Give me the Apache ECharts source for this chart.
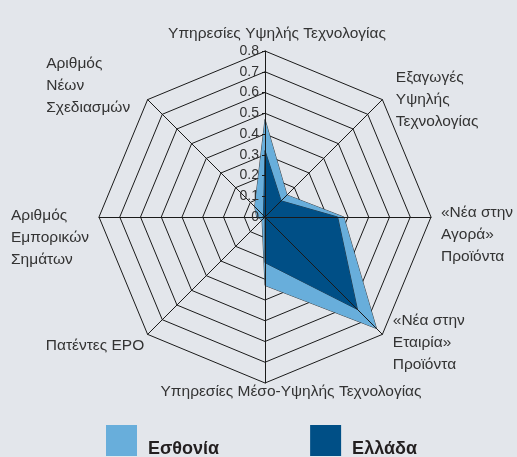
<!DOCTYPE html>
<html>
<head>
<meta charset="UTF-8">
<title>Radar Εσθονία - Ελλάδα</title>
<style>
  html,body{margin:0;padding:0;width:100%;height:100%;background:#e3e6eb;}
  #main{width:517px;height:457px;}
</style>
</head>
<body>
<div id="main"></div>
<script src="https://cdn.jsdelivr.net/npm/echarts@6/dist/echarts.min.js"></script>
<script>
// indicators in echarts order: starting at top, going counter-clockwise
var indicatorNames = [
    'Υπηρεσίες Υψηλής Τεχνολογίας',
    'Αριθμός\nΝέων\nΣχεδιασμών',
    'Αριθμός\nΕμπορικών\nΣημάτων',
    'Πατέντες EPO',
    'Υπηρεσίες Μέσο-Υψηλής Τεχνολογίας',
    '«Νέα στην\nΕταιρία»\nΠροϊόντα',
    '«Νέα στην\nΑγορά»\nΠροϊόντα',
    'Εξαγωγές\nΥψηλής\nΤεχνολογίας'
];
var seriesNames = ['Εσθονία', 'Ελλάδα'];
var estonia = [0.47, 0.07, 0.04, 0.02, 0.33, 0.76, 0.38, 0.15];
var greece  = [0.32, 0.01, 0.01, 0.00, 0.22, 0.63, 0.35, 0.11];
var tickLabels = ['0', '0.1', '0.2', '0.3', '0.4', '0.5', '0.6', '0.7', '0.8'];

var CENTER = [265, 217];
var RADIUS = 166;
var FONT = 'Liberation Sans';
var NAME_SIZE = 15.5;

// per label nudges: [gapBefore, gapAfter, padRight, padLeft, boxWidth, lineHeight]
// (single-line labels use gapBefore/gapAfter as padding)
var nameLayout = [
    [0, 8, 0, 24, 0, 22],
    [0, 25, 12, 0, 88, 22],
    [42, 0, 4, 0, 82, 22],
    [20, 0, 2, 0, 0, 22],
    [0, 0, 0, 52, 0, 14],
    [14, 0, 0, 9, 0, 22],
    [36, 0, 0, 8, 0, 22],
    [4, 0, 0, 12, 0, 22]
];

var rich = {};
nameLayout.forEach(function (l, i) {
    var st = {
        fontSize: NAME_SIZE, fontFamily: FONT, color: '#333', lineHeight: l[5],
        align: 'left',
        padding: [0, l[2], 0, l[3]]
    };
    if (l[4]) st.width = l[4];
    rich['t' + i] = st;
    rich['s' + i] = echarts.util.extend(echarts.util.clone(st), { padding: [l[0], l[2], l[1], l[3]] });
    rich['b' + i] = { fontSize: 1, lineHeight: l[0] || 1 };
    rich['a' + i] = { fontSize: 1, lineHeight: l[1] || 1 };
});

function nameFormatter(name) {
    var i = indicatorNames.indexOf(name);
    var lines = name.split('\n');
    if (lines.length == 1) return '{s' + i + '|' + name + '}';
    var out = lines.map(function (t) { return '{t' + i + '|' + t + '}'; });
    if (nameLayout[i][0]) out.unshift('{b' + i + '|\u00a0}');
    if (nameLayout[i][1]) out.push('{a' + i + '|\u00a0}');
    return out.join('\n');
}

var indicators = indicatorNames.map(function (n) { return { name: n, min: 0, max: 0.8 }; });

var myChart = echarts.init(document.getElementById('main'));
var option = {
    backgroundColor: '#e3e6eb',
    animation: false,
    legend: {
        data: seriesNames,
        left: 106,
        top: 425,
        padding: 0,
        icon: 'rect',
        itemWidth: 31,
        itemHeight: 31,
        itemGap: 91,
        itemStyle: { borderWidth: 0 },
        formatter: '{n|{name}}',
        textStyle: {
            rich: {
                n: {
                    fontSize: 18, fontWeight: 'bold', fontFamily: FONT, color: '#231f20',
                    padding: [18, 0, 0, 6]
                }
            }
        }
    },
    radar: [{
        center: CENTER,
        radius: RADIUS,
        startAngle: 90,
        shape: 'polygon',
        splitNumber: 8,
        nameGap: 2,
        indicator: indicators,
        axisName: { formatter: nameFormatter, rich: rich, color: '#333' },
        splitLine: { lineStyle: { color: '#1a1a1a', width: 1 } },
        splitArea: { show: false },
        axisLine: { show: false }
    }, {
        // spokes drawn above the filled areas
        z: 5,
        center: CENTER,
        radius: RADIUS,
        startAngle: 90,
        shape: 'polygon',
        splitNumber: 8,
        indicator: indicators,
        axisName: { show: false },
        splitLine: { show: false },
        splitArea: { show: false },
        axisLine: { lineStyle: { color: '#1a1a1a', width: 1 } }
    }],
    polar: { center: CENTER, radius: RADIUS },
    angleAxis: { type: 'value', min: 0, max: 360, startAngle: 90, show: false },
    radiusAxis: {
        z: 10,
        min: 0, max: 0.8, interval: 0.1,
        axisLine: { show: false },
        splitLine: { show: false },
        axisTick: { show: true, length: 3, lineStyle: { color: '#1a1a1a' } },
        axisLabel: {
            margin: 6,
            fontSize: 14, fontFamily: FONT, color: '#333',
            formatter: function (v, i) { return tickLabels[i]; }
        }
    },
    series: [{
        name: seriesNames[0],
        type: 'radar',
        radarIndex: 0,
        symbol: 'none',
        itemStyle: { color: '#68aedb' },
        lineStyle: { color: '#1a1a1a', width: 0.8 },
        areaStyle: { color: '#68aedb', opacity: 1 },
        data: [{ name: seriesNames[0], value: estonia }]
    }, {
        name: seriesNames[1],
        type: 'radar',
        radarIndex: 0,
        symbol: 'none',
        itemStyle: { color: '#004f86' },
        lineStyle: { color: '#1a1a1a', width: 0.8 },
        areaStyle: { color: '#004f86', opacity: 1 },
        data: [{ name: seriesNames[1], value: greece }]
    }]
};
myChart.setOption(option);
</script>
</body>
</html>
